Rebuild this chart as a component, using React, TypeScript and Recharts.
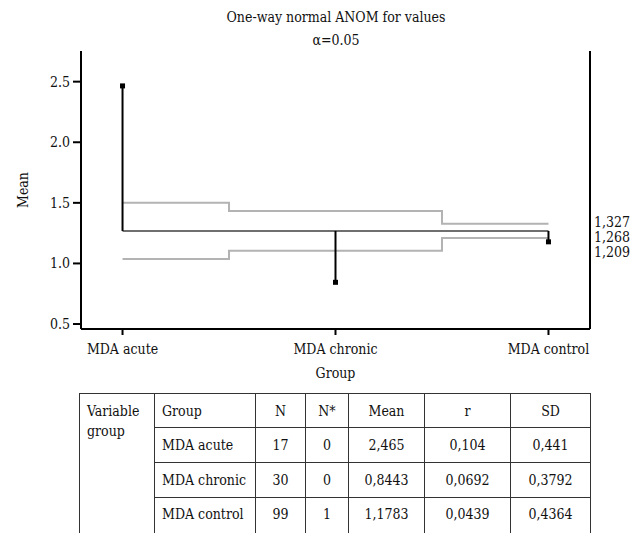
import React from 'react';
import {
    ComposedChart,
    Line,
    Scatter,
    ErrorBar,
    XAxis,
    YAxis,
    Label,
} from 'recharts';

// chart values
const groups = ['MDA acute', 'MDA chronic', 'MDA control'];
const groupPos = [1, 2, 3];
const means = [2.465, 0.8443, 1.1783];
const centerLine = 1.268;
const upperLimits = [1.5, 1.432, 1.327];
const lowerLimits = [1.036, 1.104, 1.209];
const yTicks = [0.5, 1.0, 1.5, 2.0, 2.5];
const limitLabels = [1.327, 1.268, 1.209];

// table values
const tableHeader = ['Group', 'N', 'N*', 'Mean', 'r', 'SD'];
const tableN = ['17', '30', '99'];
const tableNStar = ['0', '0', '1'];
const tableMean = ['2,465', '0,8443', '1,1783'];
const tableR = ['0,104', '0,0692', '0,0439'];
const tableSD = ['0,441', '0,3792', '0,4364'];

const FONT = '"DejaVu Serif Condensed", "DejaVu Serif", serif';
const Y_DOMAIN: [number, number] = [0.459, 2.753];
const X_DOMAIN: [number, number] = [0.805, 3.195];

const chartData = groupPos.map((pos, i) => ({
    pos,
    center: centerLine,
    udl: upperLimits[i],
    ldl: lowerLimits[i],
    mean: means[i],
    toCenter: means[i] > centerLine ? [means[i] - centerLine, 0] : [0, centerLine - means[i]],
}));

const SquareDot = (props: any) => {
    const { cx, cy } = props;
    if (cx == null || cy == null) return null;
    return <rect x={cx - 2.5} y={cy - 2.5} width={5} height={5} fill="#000" />;
};

// spread the three limit labels so they do not overlap
const labelShift = [-2, 6, 14];
const LimitTick = (props: any) => {
    const { x, y, payload, index } = props;
    return (
        <text x={x} y={y + labelShift[index]} dy="0.35em" textAnchor="start" fontSize={14} fontFamily={FONT} fill="#111">
            {payload.value.toFixed(3).replace('.', ',')}
        </text>
    );
};

const cell: React.CSSProperties = {
    border: '1px solid #333',
    padding: 0,
    fontSize: 14,
    textAlign: 'center',
    verticalAlign: 'middle',
    whiteSpace: 'nowrap',
};

export default function App() {
    const colWidths = [75, 101, 50, 43, 76, 86, 80];
    return (
        <div style={{ position: 'absolute', left: 0, top: 0, width: 640, height: 533, background: '#fff', fontFamily: FONT, color: '#111', overflow: 'hidden' }}>
            <div style={{ position: 'absolute', left: 0, width: 672, top: 6, textAlign: 'center', fontSize: 14, lineHeight: '22px' }}>
                One-way normal ANOM for values
            </div>
            <div style={{ position: 'absolute', left: 0, width: 672, top: 29, textAlign: 'center', fontSize: 14, lineHeight: '22px' }}>
                α=0.05
            </div>
            <div style={{ position: 'absolute', left: 0, top: 0 }}>
                <ComposedChart
                    width={640}
                    height={390}
                    data={chartData}
                    margin={{ top: 51, right: 0, bottom: 0, left: 21 }}
                    style={{ fontFamily: FONT }}
                >
                    <XAxis
                        dataKey="pos"
                        type="number"
                        domain={X_DOMAIN}
                        ticks={groupPos}
                        tickFormatter={(v) => groups[v - 1]}
                        allowDataOverflow
                        interval={0}
                        height={61}
                        tickSize={6}
                        tickMargin={9}
                        stroke="#000"
                        strokeWidth={2}
                        tick={{ fill: '#111', fontSize: 14, fontFamily: FONT }}
                    >
                        <Label value="Group" position="insideBottom" offset={12} fill="#111" fontSize={14} fontFamily={FONT} />
                    </XAxis>
                    <XAxis
                        xAxisId="top"
                        orientation="top"
                        type="number"
                        domain={X_DOMAIN}
                        allowDataOverflow
                        height={0}
                        tick={false}
                        tickLine={false}
                        stroke="#000"
                        strokeWidth={2}
                    />
                    <YAxis
                        type="number"
                        domain={Y_DOMAIN}
                        ticks={yTicks}
                        tickFormatter={(v) => v.toFixed(1)}
                        allowDataOverflow
                        interval={0}
                        width={60}
                        tickSize={8}
                        tickMargin={3}
                        stroke="#000"
                        strokeWidth={2}
                        tick={{ fill: '#111', fontSize: 14, fontFamily: FONT }}
                    >
                        <Label value="Mean" angle={-90} position="insideLeft" offset={2} textAnchor="middle" fill="#111" fontSize={14} fontFamily={FONT} />
                    </YAxis>
                    <YAxis
                        yAxisId="right"
                        orientation="right"
                        type="number"
                        domain={Y_DOMAIN}
                        ticks={limitLabels}
                        allowDataOverflow
                        interval={0}
                        width={50}
                        tickSize={0}
                        tickMargin={4}
                        tickLine={false}
                        stroke="#000"
                        strokeWidth={2}
                        tick={<LimitTick />}
                    />
                    <Line
                        type="step"
                        dataKey="udl"
                        stroke="#b3b3b3"
                        strokeWidth={2}
                        dot={false}
                        isAnimationActive={false}
                    />
                    <Line
                        type="step"
                        dataKey="ldl"
                        stroke="#b3b3b3"
                        strokeWidth={2}
                        dot={false}
                        isAnimationActive={false}
                    />
                    <Line
                        type="linear"
                        dataKey="center"
                        stroke="#6f6f6f"
                        strokeWidth={2}
                        dot={false}
                        isAnimationActive={false}
                    />
                    <Scatter dataKey="mean" shape={<SquareDot />} isAnimationActive={false}>
                        <ErrorBar dataKey="toCenter" direction="y" width={0} stroke="#000" strokeWidth={2} />
                    </Scatter>
                </ComposedChart>
            </div>
            <table
                style={{
                    position: 'absolute',
                    left: 79,
                    top: 393,
                    borderCollapse: 'collapse',
                    tableLayout: 'fixed',
                    width: 511,
                    fontFamily: FONT,
                    color: '#111',
                }}
            >
                <colgroup>
                    {colWidths.map((w, i) => (
                        <col key={i} style={{ width: w }} />
                    ))}
                </colgroup>
                <tbody>
                    <tr style={{ height: 34 }}>
                        <td rowSpan={4} style={{ ...cell, textAlign: 'left', verticalAlign: 'top', padding: '7px 0 0 7px', lineHeight: '20px' }}>
                            Variable<br />group
                        </td>
                        {tableHeader.map((h, i) => (
                            <td key={h} style={{ ...cell, textAlign: i === 0 ? 'left' : 'center', paddingLeft: i === 0 ? 7 : 0 }}>
                                {h}
                            </td>
                        ))}
                    </tr>
                    {groups.map((g, i) => (
                        <tr key={g} style={{ height: i === 2 ? 40 : 35 }}>
                            <td style={{ ...cell, textAlign: 'left', paddingLeft: 7, verticalAlign: i === 2 ? 'top' : 'middle', paddingTop: i === 2 ? 8 : 0 }}>{g}</td>
                            {[tableN[i], tableNStar[i], tableMean[i], tableR[i], tableSD[i]].map((v, j) => (
                                <td key={j} style={{ ...cell, verticalAlign: i === 2 ? 'top' : 'middle', paddingTop: i === 2 ? 8 : 0 }}>
                                    {v}
                                </td>
                            ))}
                        </tr>
                    ))}
                </tbody>
            </table>
        </div>
    );
}
